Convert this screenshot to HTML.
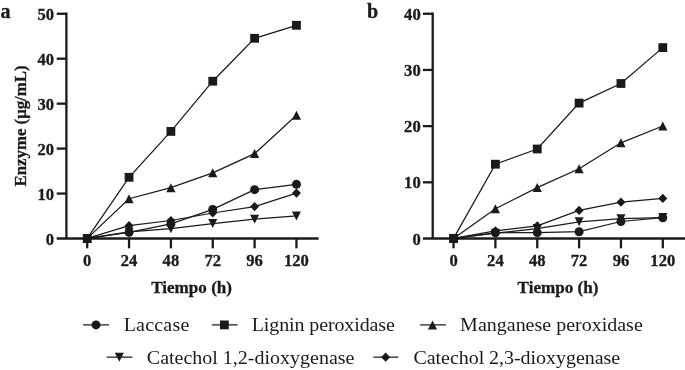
<!DOCTYPE html>
<html><head><meta charset="utf-8"><title>Enzyme production</title>
<style>
html,body{margin:0;padding:0;background:#fff;}
body{width:685px;height:370px;overflow:hidden;font-family:"Liberation Serif",serif;}
svg{display:block;will-change:transform;}
text{font-family:"Liberation Serif",serif;fill:#1a1a1a;}
.tk{font-size:16.6px;font-weight:bold;stroke:#1a1a1a;stroke-width:0.3px;}
.ti{font-size:17.1px;font-weight:bold;stroke:#1a1a1a;stroke-width:0.3px;}
.yl{font-size:16.8px;font-weight:bold;stroke:#1a1a1a;stroke-width:0.3px;}
.pl{font-size:20px;font-weight:bold;stroke:#1a1a1a;stroke-width:0.3px;}
.lg{font-size:20.0px;}
svg rect,svg circle,svg path{fill:#1a1a1a;}
</style></head><body>
<svg width="685" height="370" viewBox="0 0 685 370">
<path d="M66.4 12.6V238.5" stroke="#1a1a1a" stroke-width="2.3" fill="none"/>
<path d="M56.7 238.5H318.6" stroke="#1a1a1a" stroke-width="2.3" fill="none"/>
<text transform="translate(54.00 244.50) scale(1 1.06)" text-anchor="end" class="tk">0</text>
<path d="M56.7 193.55H66.4" stroke="#1a1a1a" stroke-width="2.3" fill="none"/>
<text transform="translate(54.00 199.55) scale(1 1.06)" text-anchor="end" class="tk">10</text>
<path d="M56.7 148.60H66.4" stroke="#1a1a1a" stroke-width="2.3" fill="none"/>
<text transform="translate(54.00 154.60) scale(1 1.06)" text-anchor="end" class="tk">20</text>
<path d="M56.7 103.65H66.4" stroke="#1a1a1a" stroke-width="2.3" fill="none"/>
<text transform="translate(54.00 109.65) scale(1 1.06)" text-anchor="end" class="tk">30</text>
<path d="M56.7 58.70H66.4" stroke="#1a1a1a" stroke-width="2.3" fill="none"/>
<text transform="translate(54.00 64.70) scale(1 1.06)" text-anchor="end" class="tk">40</text>
<path d="M56.7 13.75H66.4" stroke="#1a1a1a" stroke-width="2.3" fill="none"/>
<text transform="translate(54.00 19.75) scale(1 1.06)" text-anchor="end" class="tk">50</text>
<path d="M87.20 238.5V248.3" stroke="#1a1a1a" stroke-width="2.3" fill="none"/>
<text transform="translate(87.20 266.30) scale(1 1.06)" text-anchor="middle" class="tk">0</text>
<path d="M129.05 238.5V248.3" stroke="#1a1a1a" stroke-width="2.3" fill="none"/>
<text transform="translate(129.05 266.30) scale(1 1.06)" text-anchor="middle" class="tk">24</text>
<path d="M170.90 238.5V248.3" stroke="#1a1a1a" stroke-width="2.3" fill="none"/>
<text transform="translate(170.90 266.30) scale(1 1.06)" text-anchor="middle" class="tk">48</text>
<path d="M212.75 238.5V248.3" stroke="#1a1a1a" stroke-width="2.3" fill="none"/>
<text transform="translate(212.75 266.30) scale(1 1.06)" text-anchor="middle" class="tk">72</text>
<path d="M254.60 238.5V248.3" stroke="#1a1a1a" stroke-width="2.3" fill="none"/>
<text transform="translate(254.60 266.30) scale(1 1.06)" text-anchor="middle" class="tk">96</text>
<path d="M296.45 238.5V248.3" stroke="#1a1a1a" stroke-width="2.3" fill="none"/>
<text transform="translate(296.45 266.30) scale(1 1.06)" text-anchor="middle" class="tk">120</text>
<path d="M432.7 12.6V238.5" stroke="#1a1a1a" stroke-width="2.3" fill="none"/>
<path d="M422.9 238.5H685" stroke="#1a1a1a" stroke-width="2.3" fill="none"/>
<text transform="translate(420.70 244.50) scale(1 1.06)" text-anchor="end" class="tk">0</text>
<path d="M422.9 182.31H432.7" stroke="#1a1a1a" stroke-width="2.3" fill="none"/>
<text transform="translate(420.70 188.31) scale(1 1.06)" text-anchor="end" class="tk">10</text>
<path d="M422.9 126.12H432.7" stroke="#1a1a1a" stroke-width="2.3" fill="none"/>
<text transform="translate(420.70 132.12) scale(1 1.06)" text-anchor="end" class="tk">20</text>
<path d="M422.9 69.94H432.7" stroke="#1a1a1a" stroke-width="2.3" fill="none"/>
<text transform="translate(420.70 75.94) scale(1 1.06)" text-anchor="end" class="tk">30</text>
<path d="M422.9 13.75H432.7" stroke="#1a1a1a" stroke-width="2.3" fill="none"/>
<text transform="translate(420.70 19.75) scale(1 1.06)" text-anchor="end" class="tk">40</text>
<path d="M453.55 238.5V248.3" stroke="#1a1a1a" stroke-width="2.3" fill="none"/>
<text transform="translate(453.55 266.30) scale(1 1.06)" text-anchor="middle" class="tk">0</text>
<path d="M495.40 238.5V248.3" stroke="#1a1a1a" stroke-width="2.3" fill="none"/>
<text transform="translate(495.40 266.30) scale(1 1.06)" text-anchor="middle" class="tk">24</text>
<path d="M537.25 238.5V248.3" stroke="#1a1a1a" stroke-width="2.3" fill="none"/>
<text transform="translate(537.25 266.30) scale(1 1.06)" text-anchor="middle" class="tk">48</text>
<path d="M579.10 238.5V248.3" stroke="#1a1a1a" stroke-width="2.3" fill="none"/>
<text transform="translate(579.10 266.30) scale(1 1.06)" text-anchor="middle" class="tk">72</text>
<path d="M620.95 238.5V248.3" stroke="#1a1a1a" stroke-width="2.3" fill="none"/>
<text transform="translate(620.95 266.30) scale(1 1.06)" text-anchor="middle" class="tk">96</text>
<path d="M662.80 238.5V248.3" stroke="#1a1a1a" stroke-width="2.3" fill="none"/>
<text transform="translate(662.80 266.30) scale(1 1.06)" text-anchor="middle" class="tk">120</text>
<polyline points="87.20,238.40 129.05,225.70 170.90,220.50 212.75,213.00 254.60,206.55 296.45,193.10" fill="none" stroke="#1a1a1a" stroke-width="1.25"/>
<path d="M87.20 233.80L91.70 238.40L87.20 243.00L82.70 238.40Z"/>
<path d="M129.05 221.10L133.55 225.70L129.05 230.30L124.55 225.70Z"/>
<path d="M170.90 215.90L175.40 220.50L170.90 225.10L166.40 220.50Z"/>
<path d="M212.75 208.40L217.25 213.00L212.75 217.60L208.25 213.00Z"/>
<path d="M254.60 201.95L259.10 206.55L254.60 211.15L250.10 206.55Z"/>
<path d="M296.45 188.50L300.95 193.10L296.45 197.70L291.95 193.10Z"/>
<polyline points="87.20,238.40 129.05,231.90 170.90,228.70 212.75,223.60 254.60,219.20 296.45,215.95" fill="none" stroke="#1a1a1a" stroke-width="1.25"/>
<path d="M87.20 242.90L91.70 233.90L82.70 233.90Z"/>
<path d="M129.05 236.40L133.55 227.40L124.55 227.40Z"/>
<path d="M170.90 233.20L175.40 224.20L166.40 224.20Z"/>
<path d="M212.75 228.10L217.25 219.10L208.25 219.10Z"/>
<path d="M254.60 223.70L259.10 214.70L250.10 214.70Z"/>
<path d="M296.45 220.45L300.95 211.45L291.95 211.45Z"/>
<polyline points="87.20,238.40 129.05,198.70 170.90,187.70 212.75,172.80 254.60,153.60 296.45,115.20" fill="none" stroke="#1a1a1a" stroke-width="1.25"/>
<path d="M87.20 233.90L91.80 242.90L82.60 242.90Z"/>
<path d="M129.05 194.20L133.65 203.20L124.45 203.20Z"/>
<path d="M170.90 183.20L175.50 192.20L166.30 192.20Z"/>
<path d="M212.75 168.30L217.35 177.30L208.15 177.30Z"/>
<path d="M254.60 149.10L259.20 158.10L250.00 158.10Z"/>
<path d="M296.45 110.70L301.05 119.70L291.85 119.70Z"/>
<polyline points="87.20,238.40 129.05,177.30 170.90,131.40 212.75,81.20 254.60,38.30 296.45,25.30" fill="none" stroke="#1a1a1a" stroke-width="1.25"/>
<rect x="82.80" y="234.00" width="8.80" height="8.80"/>
<rect x="124.65" y="172.90" width="8.80" height="8.80"/>
<rect x="166.50" y="127.00" width="8.80" height="8.80"/>
<rect x="208.35" y="76.80" width="8.80" height="8.80"/>
<rect x="250.20" y="33.90" width="8.80" height="8.80"/>
<rect x="292.05" y="20.90" width="8.80" height="8.80"/>
<polyline points="87.20,238.40 129.05,232.40 170.90,223.90 212.75,209.40 254.60,189.65 296.45,184.35" fill="none" stroke="#1a1a1a" stroke-width="1.25"/>
<circle cx="87.20" cy="238.40" r="4.5"/>
<circle cx="129.05" cy="232.40" r="4.5"/>
<circle cx="170.90" cy="223.90" r="4.5"/>
<circle cx="212.75" cy="209.40" r="4.5"/>
<circle cx="254.60" cy="189.65" r="4.5"/>
<circle cx="296.45" cy="184.35" r="4.5"/>
<polyline points="453.55,238.40 495.40,230.90 537.25,225.90 579.10,210.40 620.95,202.20 662.80,198.40" fill="none" stroke="#1a1a1a" stroke-width="1.25"/>
<path d="M453.55 233.80L458.05 238.40L453.55 243.00L449.05 238.40Z"/>
<path d="M495.40 226.30L499.90 230.90L495.40 235.50L490.90 230.90Z"/>
<path d="M537.25 221.30L541.75 225.90L537.25 230.50L532.75 225.90Z"/>
<path d="M579.10 205.80L583.60 210.40L579.10 215.00L574.60 210.40Z"/>
<path d="M620.95 197.60L625.45 202.20L620.95 206.80L616.45 202.20Z"/>
<path d="M662.80 193.80L667.30 198.40L662.80 203.00L658.30 198.40Z"/>
<polyline points="453.55,238.40 495.40,233.20 537.25,228.60 579.10,221.80 620.95,218.70 662.80,217.60" fill="none" stroke="#1a1a1a" stroke-width="1.25"/>
<path d="M453.55 242.90L458.05 233.90L449.05 233.90Z"/>
<path d="M495.40 237.70L499.90 228.70L490.90 228.70Z"/>
<path d="M537.25 233.10L541.75 224.10L532.75 224.10Z"/>
<path d="M579.10 226.30L583.60 217.30L574.60 217.30Z"/>
<path d="M620.95 223.20L625.45 214.20L616.45 214.20Z"/>
<path d="M662.80 222.10L667.30 213.10L658.30 213.10Z"/>
<polyline points="453.55,238.40 495.40,208.70 537.25,187.60 579.10,168.80 620.95,142.80 662.80,126.00" fill="none" stroke="#1a1a1a" stroke-width="1.25"/>
<path d="M453.55 233.90L458.15 242.90L448.95 242.90Z"/>
<path d="M495.40 204.20L500.00 213.20L490.80 213.20Z"/>
<path d="M537.25 183.10L541.85 192.10L532.65 192.10Z"/>
<path d="M579.10 164.30L583.70 173.30L574.50 173.30Z"/>
<path d="M620.95 138.30L625.55 147.30L616.35 147.30Z"/>
<path d="M662.80 121.50L667.40 130.50L658.20 130.50Z"/>
<polyline points="453.55,238.40 495.40,164.20 537.25,149.00 579.10,103.10 620.95,83.50 662.80,47.60" fill="none" stroke="#1a1a1a" stroke-width="1.25"/>
<rect x="449.15" y="234.00" width="8.80" height="8.80"/>
<rect x="491.00" y="159.80" width="8.80" height="8.80"/>
<rect x="532.85" y="144.60" width="8.80" height="8.80"/>
<rect x="574.70" y="98.70" width="8.80" height="8.80"/>
<rect x="616.55" y="79.10" width="8.80" height="8.80"/>
<rect x="658.40" y="43.20" width="8.80" height="8.80"/>
<polyline points="453.55,238.40 495.40,232.80 537.25,232.60 579.10,231.70 620.95,221.50 662.80,217.70" fill="none" stroke="#1a1a1a" stroke-width="1.25"/>
<circle cx="453.55" cy="238.40" r="4.5"/>
<circle cx="495.40" cy="232.80" r="4.5"/>
<circle cx="537.25" cy="232.60" r="4.5"/>
<circle cx="579.10" cy="231.70" r="4.5"/>
<circle cx="620.95" cy="221.50" r="4.5"/>
<circle cx="662.80" cy="217.70" r="4.5"/>
<text transform="translate(0.50 18.00) scale(1 1.03)" text-anchor="start" class="pl">a</text>
<text transform="translate(367.00 18.00) scale(1 1.03)" text-anchor="start" class="pl">b</text>
<text transform="translate(191.60 292.80) scale(1 1.03)" text-anchor="middle" class="ti">Tiempo (h)</text>
<text transform="translate(558.00 292.80) scale(1 1.03)" text-anchor="middle" class="ti">Tiempo (h)</text>
<text transform="translate(25.50 125.95) rotate(-90) scale(1 1.03)" text-anchor="middle" class="yl">Enzyme (μg/mL)</text>
<path d="M83.1 324.9H109" stroke="#1a1a1a" stroke-width="1.25" fill="none"/><circle cx="96.00" cy="324.90" r="4.5"/><text transform="translate(123.70 331.00) scale(1 0.98)" text-anchor="start" class="lg" letter-spacing="0.20">Laccase</text>
<path d="M211.9 324.9H237.6" stroke="#1a1a1a" stroke-width="1.25" fill="none"/><rect x="220.00" y="320.50" width="8.80" height="8.80"/><text transform="translate(251.70 331.00) scale(1 0.98)" text-anchor="start" class="lg" letter-spacing="-0.11">Lignin peroxidase</text>
<path d="M420.1 324.9H445.9" stroke="#1a1a1a" stroke-width="1.25" fill="none"/><path d="M432.50 320.40L437.10 329.40L427.90 329.40Z"/><text transform="translate(460.10 331.00) scale(1 0.98)" text-anchor="start" class="lg">Manganese peroxidase</text>
<path d="M106.6 357.15H132.4" stroke="#1a1a1a" stroke-width="1.25" fill="none"/><path d="M119.30 361.65L123.80 352.65L114.80 352.65Z"/><text transform="translate(146.80 363.80) scale(1 0.98)" text-anchor="start" class="lg">Catechol 1,2-dioxygenase</text>
<path d="M373.4 357.15H398.3" stroke="#1a1a1a" stroke-width="1.25" fill="none"/><path d="M385.60 352.55L390.10 357.15L385.60 361.75L381.10 357.15Z"/><text transform="translate(413.40 363.80) scale(1 0.98)" text-anchor="start" class="lg" letter-spacing="-0.04">Catechol 2,3-dioxygenase</text>
</svg>
</body></html>
